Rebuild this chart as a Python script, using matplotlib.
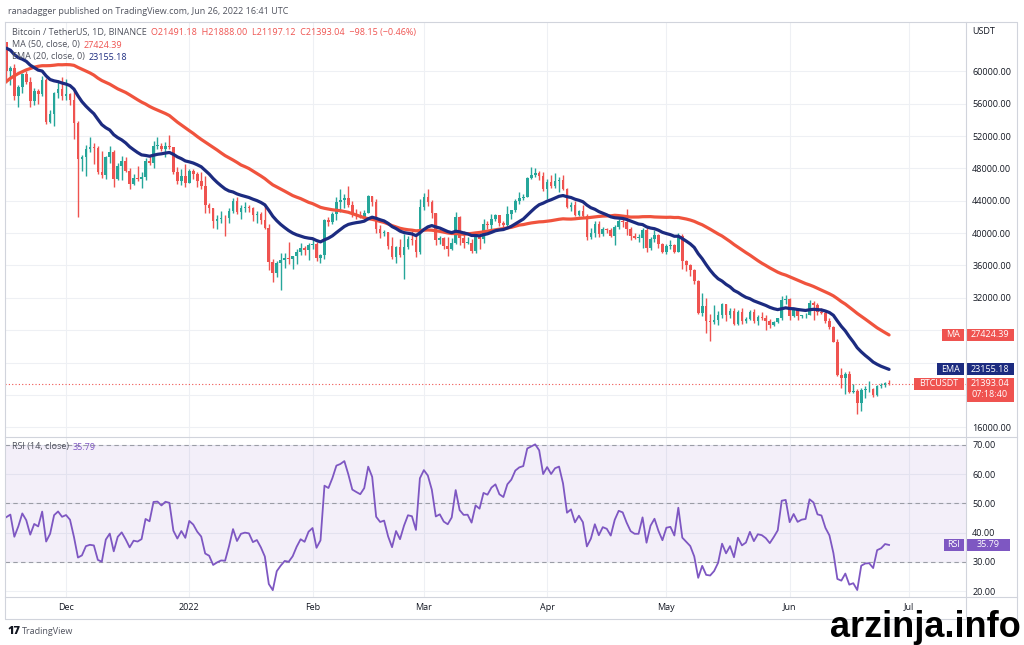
import numpy as np
import pandas as pd
import matplotlib
matplotlib.use('Agg')
import matplotlib.pyplot as plt
import matplotlib.dates as mdates
from matplotlib.patches import Rectangle
from matplotlib.ticker import StrMethodFormatter

plt.rcParams['font.family'] = ['Open Sans', 'DejaVu Sans']

#%% data (prices in thousands of USDT), daily candles from 2021-11-16
first_day = '2021-11-16'

# closes before the first visible candle (2021-09-28 .. 2021-11-15), only used for the indicators
warmup_close = [41.03, 41.52, 43.82, 48.14, 47.63, 48.20, 49.22, 51.47, 55.32, 53.81, 53.95, 54.94,
                54.66, 57.47, 56.01, 57.37, 57.35, 61.67, 60.88, 61.53, 62.03, 64.26, 65.99, 62.21,
                60.69, 61.30, 60.85, 63.08, 60.33, 58.46, 60.59, 62.25, 61.86, 61.32, 61.00, 63.23,
                62.94, 61.44, 60.97, 61.53, 63.27, 67.53, 66.93, 64.91, 64.81, 64.16, 64.40, 65.50, 63.60]

close = [
    # Nov
    60.06, 60.36, 56.90, 58.10, 59.70, 58.68, 56.30, 57.57, 57.18, 58.96, 53.73, 54.72, 57.27, 57.81, 56.95,
    # Dec
    57.18, 56.48, 53.60, 49.15, 49.40, 50.44, 50.59, 50.47, 47.55, 47.14, 49.39, 50.05, 46.70, 48.34, 48.86,
    47.63, 46.13, 46.83, 46.68, 46.91, 48.94, 48.63, 50.78, 50.82, 50.40, 50.78, 50.68, 47.54, 46.46, 47.12, 46.22,
    # Jan
    47.72, 47.29, 46.43, 45.83, 43.43, 43.08, 41.55, 41.73, 41.86, 41.82, 42.74, 43.92, 42.59, 43.10, 43.18,
    43.11, 42.25, 42.37, 41.66, 40.68, 36.45, 35.07, 36.28, 36.65, 36.95, 36.84, 37.16, 37.72, 38.17, 37.92, 38.50,
    # Feb
    38.71, 36.90, 37.32, 41.57, 41.38, 42.41, 43.84, 44.04, 44.38, 43.50, 42.39, 42.21, 42.05, 42.54,
    44.54, 43.87, 40.52, 39.97, 40.08, 38.39, 37.02, 38.25, 37.26, 38.33, 39.22, 39.12, 37.70, 43.19,
    # Mar
    44.42, 43.89, 42.45, 39.15, 39.40, 38.42, 38.06, 38.74, 41.94, 39.44, 38.79, 38.81, 37.78, 39.67, 39.28,
    41.14, 40.95, 41.80, 42.19, 41.26, 41.00, 42.36, 42.89, 43.96, 44.35, 44.50, 46.82, 47.13, 47.43, 47.07, 45.51,
    # Apr
    46.28, 45.81, 46.41, 46.58, 45.50, 43.17, 43.44, 42.25, 42.75, 42.16, 39.52, 40.07, 41.15, 39.94, 40.55,
    40.38, 39.68, 40.80, 41.49, 41.36, 40.48, 39.70, 39.45, 39.45, 40.43, 38.11, 39.24, 39.74, 38.60, 37.63,
    # May
    38.47, 38.53, 37.72, 39.69, 36.55, 36.01, 35.47, 34.04, 30.08, 31.00, 29.10, 28.96, 29.28, 29.86, 31.30,
    29.86, 30.42, 28.72, 30.31, 29.20, 29.43, 30.30, 29.10, 29.65, 29.54, 29.20, 28.63, 29.03, 29.47, 31.73, 31.80,
    # Jun
    29.80, 30.45, 29.70, 29.86, 29.91, 31.37, 31.13, 30.20, 30.11, 29.09, 28.42, 26.57, 22.49, 22.14, 22.58,
    20.38, 20.47, 18.97, 20.55, 20.70, 20.72, 19.99, 21.11, 21.23, 21.49, 21.393]

high = [
    63.63, 60.72, 60.95, 58.35, 59.85, 60.03, 59.29, 57.88, 57.80, 59.40, 59.18, 55.28, 57.44, 58.87, 59.25,
    59.05, 57.38, 57.60, 53.90, 49.70, 50.89, 51.94, 51.20, 50.80, 50.10, 49.48, 50.80, 50.26, 48.70, 49.50,
    49.42, 48.00, 47.32, 48.30, 47.54, 49.33, 49.58, 51.37, 51.87, 51.17, 51.28, 52.09, 50.70, 48.13, 47.90, 48.55,
    47.95, 47.99, 47.57, 47.50, 47.07, 43.75, 43.15, 42.30, 42.79, 42.25, 43.10, 44.35, 44.46, 43.45, 43.80,
    43.48, 43.20, 42.70, 42.58, 43.50, 41.10, 36.84, 36.50, 37.55, 37.55, 38.92, 37.23, 38.00, 38.72, 38.36, 38.74,
    39.27, 38.86, 37.39, 41.77, 41.96, 42.66, 44.50, 45.49, 44.80, 45.82, 43.92, 43.00, 42.76, 42.88,
    44.77, 44.58, 44.17, 40.95, 40.44, 40.15, 39.50, 38.43, 39.25, 39.84, 39.70, 40.30, 39.88, 44.22,
    44.95, 45.40, 44.10, 42.53, 39.70, 39.48, 39.55, 39.36, 42.59, 42.06, 40.24, 39.49, 39.31, 39.95, 39.88,
    41.72, 41.48, 42.33, 42.40, 42.30, 41.54, 43.36, 42.90, 44.25, 45.09, 44.81, 46.92, 48.19, 48.10, 47.70, 47.60,
    46.70, 47.21, 47.44, 46.89, 47.20, 45.52, 43.90, 43.97, 42.80, 43.43, 42.41, 40.68, 41.56, 41.50, 40.71,
    40.64, 40.60, 40.97, 41.76, 42.20, 42.98, 40.80, 39.99, 39.92, 40.62, 40.80, 39.47, 40.37, 39.93, 38.80,
    38.68, 39.17, 38.65, 40.02, 39.85, 36.65, 36.13, 35.51, 34.24, 32.66, 32.01, 30.03, 31.08, 30.34, 31.41,
    31.30, 30.80, 30.69, 30.55, 30.78, 29.63, 30.48, 30.66, 29.83, 30.22, 29.85, 29.38, 29.20, 29.54, 32.22, 32.40,
    31.98, 30.66, 30.68, 29.94, 30.17, 31.76, 31.56, 31.35, 30.70, 30.39, 29.45, 28.55, 26.88, 23.36, 22.80,
    22.98, 21.37, 20.78, 20.82, 21.10, 21.72, 20.87, 21.20, 21.52, 21.60, 21.888]

low = [
    58.57, 58.37, 56.50, 55.60, 57.35, 58.48, 55.61, 55.84, 55.97, 57.00, 53.50, 53.61, 53.26, 56.73, 56.50,
    56.46, 55.84, 51.68, 42.00, 47.73, 47.10, 50.04, 48.60, 47.32, 46.85, 46.75, 48.64, 45.67, 46.55, 46.55,
    47.53, 45.50, 45.98, 46.41, 45.56, 46.63, 48.42, 48.05, 50.40, 50.19, 49.43, 50.45, 47.31, 46.10, 45.90, 45.68,
    46.21, 46.65, 45.70, 45.50, 42.50, 42.43, 40.61, 40.50, 41.20, 39.65, 41.27, 42.45, 42.31, 41.73, 42.58,
    42.59, 41.54, 41.25, 41.14, 40.55, 35.44, 34.01, 34.60, 32.92, 35.70, 36.23, 35.51, 36.15, 37.30, 37.35, 36.63,
    38.00, 36.59, 36.25, 36.85, 40.93, 41.10, 41.65, 42.67, 43.12, 43.20, 42.02, 41.75, 41.88, 41.57,
    42.43, 43.31, 40.07, 39.45, 39.64, 38.00, 36.81, 36.35, 37.04, 34.32, 38.01, 38.55, 37.00, 37.45,
    42.81, 43.33, 41.83, 38.55, 38.60, 38.09, 37.16, 37.86, 38.66, 38.54, 38.22, 38.66, 37.58, 37.58, 38.10,
    38.83, 40.50, 40.14, 41.50, 40.93, 40.47, 40.89, 41.75, 42.56, 43.58, 44.07, 44.42, 46.66, 46.95, 46.55, 45.20,
    44.20, 45.62, 45.52, 45.12, 45.35, 43.12, 42.73, 42.11, 42.13, 41.87, 39.20, 39.25, 39.55, 39.55, 39.60,
    40.01, 39.55, 38.54, 40.57, 40.82, 39.75, 39.18, 39.30, 38.88, 38.20, 37.70, 37.87, 38.88, 38.18, 37.58,
    37.39, 38.05, 37.50, 37.67, 35.57, 35.26, 34.75, 33.71, 30.03, 29.73, 27.70, 26.70, 28.75, 28.63, 29.48,
    29.10, 29.45, 28.65, 28.70, 28.73, 28.95, 29.22, 28.85, 28.70, 29.29, 28.02, 28.24, 28.57, 28.85, 29.30, 31.20,
    29.30, 29.60, 29.25, 29.49, 29.53, 29.88, 29.22, 29.85, 29.95, 28.85, 28.10, 26.56, 22.35, 20.85, 20.08,
    20.23, 20.25, 17.62, 17.96, 19.64, 20.35, 19.77, 19.90, 20.85, 20.94, 21.197]

month_ticks = ['2021-12-01', '2022-01-01', '2022-02-01', '2022-03-01', '2022-04-01',
               '2022-05-01', '2022-06-01', '2022-07-01']
month_labels = ['Dec', '2022', 'Feb', 'Mar', 'Apr', 'May', 'Jun', 'Jul']
price_ticks = [16000, 20000, 24000, 28000, 32000, 36000, 40000, 44000, 48000, 52000, 56000, 60000]
hidden_price_labels = [20000, 24000, 28000]   # covered by the value tags
rsi_ticks = [20, 30, 40, 50, 60, 70]

header = 'ranadagger published on TradingView.com, Jun 26, 2022 16:41 UTC'
symbol = 'Bitcoin / TetherUS, 1D, BINANCE'
ohlc_text = 'O21491.18  H21888.00  L21197.12  C21393.04  \u221298.15 (\u22120.46%)'
ma_value = 27424.39
ema_value = 23155.18
last_price = 21393.04
countdown = '07:18:40'
rsi_value = 35.79

#%% indicators
all_close = np.array(warmup_close + close) * 1000
n0 = len(warmup_close)
c = all_close[n0:]
o = all_close[n0 - 1:-1]
h = np.maximum(np.array(high) * 1000, np.maximum(o, c))
l = np.minimum(np.array(low) * 1000, np.minimum(o, c))

s = pd.Series(all_close)
ma50 = s.rolling(50).mean().values[n0:]
ema20 = s.ewm(span=20, adjust=False).mean().values[n0:]
d = s.diff()
up = d.clip(lower=0).ewm(alpha=1/14, adjust=False).mean()
dn = (-d.clip(upper=0)).ewm(alpha=1/14, adjust=False).mean()
rsi = (100 - 100 / (1 + up / dn)).values[n0:]

x = mdates.date2num(pd.date_range(first_day, periods=len(c)))

#%% figure
W, H = 1024, 645
fig = plt.figure(figsize=(W / 100, H / 100), dpi=100)
fig.patch.set_facecolor('white')

def px_box(x0, y0, x1, y1):
    return [x0 / W, 1 - y1 / H, (x1 - x0) / W, (y1 - y0) / H]

ax_p = fig.add_axes(px_box(5, 22, 966, 437))
ax_r = fig.add_axes(px_box(5, 437, 966, 597), sharex=ax_p)

up_col, dn_col = '#26a69a', '#ef5350'
cols = np.where(c >= o, up_col, dn_col)

ax_p.vlines(x, l, h, colors=cols, lw=1, zorder=2)
ax_p.bar(x, np.maximum(np.abs(c - o), 60), bottom=np.minimum(o, c), width=0.66,
         color=cols, lw=0, zorder=3)
ax_p.plot(x, ma50, color='#f0533d', lw=2.3, zorder=4, solid_capstyle='round')
ax_p.plot(x, ema20, color='#1c2b80', lw=2.3, zorder=4, solid_capstyle='round')
ax_p.axhline(last_price, color='#ef5350', lw=0.8, ls=(0, (1, 2)), zorder=1)

ax_r.axhspan(30, 70, color='#7e57c2', alpha=0.09, lw=0)
for lv in (70, 50, 30):
    ax_r.axhline(lv, color='#9a9da6', lw=0.8, ls=(0, (4, 3)))
ax_r.plot(x, rsi, color='#7e57c2', lw=1.3, zorder=3)

x_left = x[0] - 0.35
ax_p.set_xlim(x_left, x_left + 961 / 3.976)
ax_p.set_ylim(14800, 66100)
ax_r.set_ylim(18, 72.7)

for a in (ax_p, ax_r):
    for sp in a.spines.values():
        sp.set_visible(False)
    a.yaxis.tick_right()
    a.tick_params(axis='both', length=0, labelsize=6.5, labelcolor='#131722')
    a.tick_params(axis='y', pad=4.5)
    a.grid(True, color='#eef0f4', lw=0.8)
    a.set_axisbelow(True)

ax_p.set_yticks(price_ticks)
ax_p.set_yticklabels(['' if v in hidden_price_labels else '%.2f' % v for v in price_ticks])
ax_r.set_yticks(rsi_ticks)
ax_r.yaxis.set_major_formatter(StrMethodFormatter('{x:.2f}'))
ax_r.set_xticks(mdates.date2num(pd.to_datetime(month_ticks)))
ax_r.set_xticklabels(month_labels)
ax_r.tick_params(axis='x', pad=4)
ax_p.tick_params(axis='x', labelbottom=False)

#%% overlay in pixel coordinates
ov = fig.add_axes([0, 0, 1, 1], zorder=5)
ov.set_xlim(0, W)
ov.set_ylim(H, 0)
ov.axis('off')
ov.patch.set_alpha(0)

fc = '#d1d4dc'
ov.plot([5, 1017, 1017, 5, 5], [22, 22, 619, 619, 22], color=fc, lw=0.8)
ov.plot([966, 966], [22, 619], color=fc, lw=0.8)
ov.plot([5, 1017], [437, 437], color=fc, lw=0.8)
ov.plot([5, 1017], [597, 597], color=fc, lw=0.8)

rend = fig.canvas.get_renderer()

def multi(x0, y0, parts, size=6.5):
    for txt, col in parts:
        t = ov.text(x0, y0, txt, color=col, fontsize=size, va='center', ha='left')
        x0 += t.get_window_extent(renderer=rend).width + 4

def py(ax, v):
    return H - ax.transData.transform((0, v))[1]

def tag(x0, x1, yc, color, lines, hh=12):
    ov.add_patch(Rectangle((x0, yc - 6), x1 - x0, hh, color=color, lw=0))
    for k, txt in enumerate(lines):
        ov.text((x0 + x1) / 2, yc + 11 * k, txt, color='white', fontsize=6.5,
                ha='center', va='center')

gray = '#50535e'
ov.text(8, 12, header, color=gray, fontsize=6.5, va='center')
multi(12, 32, [(symbol, gray), (ohlc_text, '#ef5350')])
multi(12, 45, [('MA (50, close, 0)', gray), ('%.2f' % ma_value, '#ef5350')])
multi(12, 57, [('EMA (20, close, 0)', gray), ('%.2f' % ema_value, '#1c2b80')])
multi(12, 447, [('RSI (14, close)', gray), ('%.2f' % rsi_value, '#7e57c2')])
ov.text(972, 31, 'USDT', color='#131722', fontsize=6.5, va='center')

y_ma = py(ax_p, ma_value)
y_ema = py(ax_p, ema_value)
y_px = py(ax_p, last_price)
y_rsi = py(ax_r, rsi_value)
tag(942, 964, y_ma, '#ef5350', ['MA'])
tag(966, 1014, y_ma, '#ef5350', ['%.2f' % ma_value])
tag(937, 964, y_ema, '#1c2b80', ['EMA'])
tag(966, 1014, y_ema, '#1c2b80', ['%.2f' % ema_value])
tag(914, 964, y_px, '#ef5350', ['BTCUSDT'])
tag(966, 1014, y_px, '#ef5350', ['%.2f' % last_price, countdown], hh=24)
tag(944, 964, y_rsi, '#7e57c2', ['RSI'])
tag(966, 1010, y_rsi, '#7e57c2', ['%.2f' % rsi_value])

ov.text(8, 632, '17', color='#131722', fontsize=8, weight='heavy', va='center')
ov.text(22, 632, 'TradingView', color=gray, fontsize=6.5, va='center')

ov.text(1021, 637, 'arzinja.info', color='black', fontsize=26, weight='bold',
        family=['Liberation Sans Narrow', 'Liberation Sans'], ha='right', va='baseline')

fig.savefig('out.png', dpi=100, facecolor='white')
